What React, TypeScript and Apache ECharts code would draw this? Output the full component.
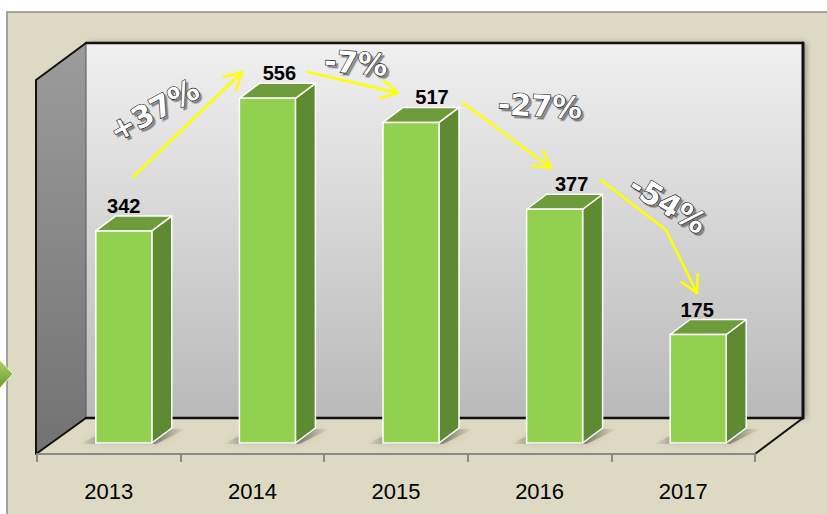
import React, { useEffect, useRef } from "react";
import * as echarts from "echarts";

// ---- data ----
const YEARS = ["2013", "2014", "2015", "2016", "2017"];
const VALUES = [342, 556, 517, 377, 175];
const CHANGES = ["+37%", "-7%", "-27%", "-54%"];
const Y_MIN = 0;
const Y_MAX = 600;

// ---- layout (pixels, styling only) ----
const LABEL_DX = [15, 27, 36, 32, 14];
const ARROWS: number[][][] = [
  [[133, 177], [242, 72]],
  [[308, 72], [398, 93]],
  [[463, 103], [551, 168]],
  [[601, 180], [666, 230], [697, 293]],
];
const CHANGE_POS = [
  { x: 154, y: 110, rot: 0.5 },
  { x: 356, y: 63, rot: -0.08 },
  { x: 540, y: 106, rot: -0.05 },
  { x: 668, y: 204, rot: -0.55 },
];

const BEIGE = "#DDD9C3";
const FRONT = "#92D050";
const TOP = "#6F9C3B";
const SIDE = "#5E8A32";

function head(pts: number[][], len = 19, ang = 0.5) {
  const [x1, y1] = pts[pts.length - 2];
  const [x2, y2] = pts[pts.length - 1];
  const a = Math.atan2(y2 - y1, x2 - x1);
  return [
    [x2 - len * Math.cos(a - ang), y2 - len * Math.sin(a - ang)],
    [x2, y2],
    [x2 - len * Math.cos(a + ang), y2 - len * Math.sin(a + ang)],
  ];
}

export default function App() {
  const ref = useRef<HTMLDivElement>(null);
  useEffect(() => {
    if (!ref.current) return;
    const chart = echarts.init(ref.current, undefined, { renderer: "svg" });
    const line = (pts: number[][], color: string, w: number, z = -5) => ({
      type: "polyline",
      z,
      silent: true,
      shape: { points: pts },
      style: { stroke: color, lineWidth: w, fill: null, lineJoin: "round", lineCap: "round" },
    });
    const background: any[] = [
      {
        type: "rect",
        z: -20,
        shape: { x: 7, y: 12, width: 840, height: 520 },
        style: { fill: BEIGE, stroke: "#8c8c8c", lineWidth: 1.5 },
      },
      {
        type: "polygon",
        z: -19,
        shape: { points: [[-12, 356], [-4, 356], [13, 374], [-4, 392], [-12, 392]] },
        style: {
          fill: new echarts.graphic.LinearGradient(0, 0, 0, 1, [
            { offset: 0, color: "#b6dc6c" },
            { offset: 1, color: "#5f9228" },
          ]),
          stroke: "#e8f3d0",
          lineWidth: 1,
        },
      },
      {
        type: "rect",
        z: -18,
        shape: { x: 86, y: 43, width: 717, height: 375 },
        style: {
          fill: new echarts.graphic.LinearGradient(0, 0, 0, 1, [
            { offset: 0, color: "#f0f0f0" },
            { offset: 1, color: "#b9b9b9" },
          ]),
          shadowBlur: 6,
          shadowColor: "rgba(0,0,0,0.35)",
          shadowOffsetX: 3,
        },
      },
      {
        type: "polygon",
        z: -17,
        shape: { points: [[36, 80], [86, 43], [86, 418], [36, 454]] },
        style: {
          fill: new echarts.graphic.LinearGradient(0, 0, 0, 1, [
            { offset: 0, color: "#9c9c9c" },
            { offset: 1, color: "#727272" },
          ]),
          stroke: "#555",
          lineWidth: 1,
        },
      },
      {
        type: "polygon",
        z: -17,
        shape: { points: [[36, 454], [86, 418], [803, 418], [755, 454]] },
        style: { fill: BEIGE },
      },
      line([[86, 43], [803, 43]], "#111", 2.5, -16),
      line([[803, 43], [803, 418]], "#111", 3, -16),
      line([[86, 418], [803, 418]], "#111", 2.5, -16),
      line([[803, 418], [755, 454]], "#111", 2, -16),
      line([[86, 43], [36, 80], [36, 454], [86, 418]], "#111", 2, -16),
    ];
    const annotations: any[] = [];
    ARROWS.forEach((pts) => {
      annotations.push(line(pts, "#FFFF00", 2.5, 50));
      annotations.push(line(head(pts), "#FFFF00", 2.5, 50));
    });
    CHANGES.forEach((t, k) => {
      const p = CHANGE_POS[k];
      const base = {
        text: t,
        font: "bold 30px 'DejaVu Sans'",
        align: "center",
        verticalAlign: "middle",
        textAlign: "center",
        textVerticalAlign: "middle",
      };
      annotations.push({
        type: "text",
        z: 59,
        x: p.x + 2.5,
        y: p.y + 2.5,
        rotation: p.rot,
        silent: true,
        style: { ...base, fill: "rgba(0,0,0,0.35)", stroke: "rgba(0,0,0,0.2)", lineWidth: 2 },
      });
      annotations.push({
        type: "text",
        z: 60,
        x: p.x,
        y: p.y,
        rotation: p.rot,
        silent: true,
        style: { ...base, fill: "#ffffff", stroke: "#111111", lineWidth: 1.2 },
      });
    });

    chart.setOption({
      animation: false,
      backgroundColor: "#ffffff",
      grid: { left: 37, right: 72, top: 82, bottom: 60 },
      xAxis: {
        type: "category",
        data: YEARS,
        boundaryGap: true,
        axisLine: { show: true, lineStyle: { color: "#8a8a8a", width: 2 } },
        axisTick: { show: true, length: 8, interval: 0, lineStyle: { color: "#8a8a8a", width: 2 } },
        axisLabel: {
          color: "#000",
          fontSize: 22,
          fontFamily: "'Liberation Sans', Arial, sans-serif",
          margin: 26,
        },
        splitLine: { show: false },
      },
      yAxis: {
        type: "value",
        min: Y_MIN,
        max: Y_MAX,
        show: false,
        splitLine: { show: false },
      },
      graphic: [...background, ...annotations],
      series: [
        {
          type: "custom",
          z: 10,
          encode: { x: 0, y: 1 },
          data: VALUES.map((v, i) => [i, v]),
          renderItem: (params: any, api: any) => {
            const i = api.value(0);
            const v = api.value(1);
            const top = api.coord([i, v]);
            const base = api.coord([i, 0]);
            const cx = top[0];
            const w = 56;
            const x0 = cx - 13;
            const x1 = x0 + w;
            const yb = base[1] - 11;
            const yt = top[1] - 11;
            const dx = 20;
            const dy = -15;
            return {
              type: "group",
              children: [
                {
                  type: "polygon",
                  shape: {
                    points: [
                      [x0 - 16, yb + 1],
                      [x1 + 4, yb + 1],
                      [x1 + dx + 14, yb + dy + 1],
                      [x0 + dx - 6, yb + dy + 1],
                    ],
                  },
                  style: {
                    fill: new echarts.graphic.LinearGradient(0, 0, 1, 0, [
                      { offset: 0, color: "rgba(60,60,50,0)" },
                      { offset: 0.25, color: "rgba(60,60,50,0.45)" },
                      { offset: 0.75, color: "rgba(60,60,50,0.45)" },
                      { offset: 1, color: "rgba(60,60,50,0)" },
                    ]),
                    shadowBlur: 6,
                    shadowColor: "rgba(0,0,0,0.3)",
                  },
                },
                {
                  type: "polygon",
                  shape: { points: [[x1, yt], [x1 + dx, yt + dy], [x1 + dx, yb + dy], [x1, yb]] },
                  style: { fill: SIDE, stroke: "#ffffff", lineWidth: 1.5, lineJoin: "round" },
                },
                {
                  type: "polygon",
                  shape: { points: [[x0, yt], [x0 + dx, yt + dy], [x1 + dx, yt + dy], [x1, yt]] },
                  style: { fill: TOP, stroke: "#ffffff", lineWidth: 1.5, lineJoin: "round" },
                },
                {
                  type: "rect",
                  shape: { x: x0, y: yt, width: w, height: yb - yt },
                  style: { fill: FRONT, stroke: "#ffffff", lineWidth: 1.5 },
                },
                {
                  type: "text",
                  style: {
                    text: String(v),
                    x: cx + LABEL_DX[i],
                    y: yt - 25,
                    align: "center",
                    verticalAlign: "middle",
                    font: "bold 20px 'Liberation Sans', Arial, sans-serif",
                    fill: "#000",
                  },
                },
              ],
            };
          },
        },
      ],
    });
    return () => chart.dispose();
  }, []);
  return (
    <div
      ref={ref}
      style={{ position: "fixed", left: 0, top: 0, width: 827, height: 514 }}
    />
  );
}
